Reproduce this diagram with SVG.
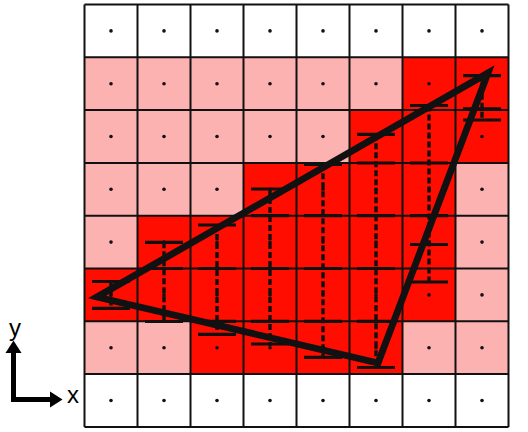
<svg xmlns="http://www.w3.org/2000/svg" width="528" height="432" viewBox="0 0 528 432">
<style>
.w{fill:#ffffff}
.p{fill:#fcb2b0}
.r{fill:#ff0d00}
.grid{fill:none;stroke:#111;stroke-width:2}
.dot{fill:#111}
.dash{stroke:#111;stroke-width:3.4;stroke-dasharray:6 3;fill:none}
.tick{stroke:#111;stroke-width:3.2}
.tri{fill:none;stroke:#111;stroke-width:6.8;stroke-linejoin:miter}
.ax{fill:none;stroke:#000;stroke-width:5;stroke-linejoin:miter}
.lbl{font-family:"Liberation Sans",Arial,sans-serif;font-size:24px;fill:#000;text-anchor:middle}
</style>
<rect width="528" height="432" fill="#fff"/>
<g id="cells">
<rect class="w" x="84.5" y="4.5" width="424" height="52.8"/>
<rect class="p" x="84.5" y="57.3" width="318" height="52.8"/>
<rect class="r" x="402.5" y="57.3" width="106" height="52.8"/>
<rect class="p" x="84.5" y="110.1" width="265" height="52.8"/>
<rect class="r" x="349.5" y="110.1" width="159" height="52.8"/>
<rect class="p" x="84.5" y="162.9" width="159" height="52.8"/>
<rect class="r" x="243.5" y="162.9" width="212" height="52.8"/>
<rect class="p" x="455.5" y="162.9" width="53" height="52.8"/>
<rect class="p" x="84.5" y="215.7" width="53" height="52.8"/>
<rect class="r" x="137.5" y="215.7" width="318" height="52.8"/>
<rect class="p" x="455.5" y="215.7" width="53" height="52.8"/>
<rect class="r" x="84.5" y="268.5" width="371" height="52.8"/>
<rect class="p" x="455.5" y="268.5" width="53" height="52.8"/>
<rect class="p" x="84.5" y="321.3" width="106" height="52.8"/>
<rect class="r" x="190.5" y="321.3" width="212" height="52.8"/>
<rect class="p" x="402.5" y="321.3" width="106" height="52.8"/>
<rect class="w" x="84.5" y="374.1" width="424" height="52.8"/>
</g>
<g id="grid">
<path class="grid" d="M84.5 4.5V426.9M137.5 4.5V426.9M190.5 4.5V426.9M243.5 4.5V426.9M296.5 4.5V426.9M349.5 4.5V426.9M402.5 4.5V426.9M455.5 4.5V426.9M508.5 4.5V426.9M84.5 4.5H508.5M84.5 57.3H508.5M84.5 110.1H508.5M84.5 162.9H508.5M84.5 215.7H508.5M84.5 268.5H508.5M84.5 321.3H508.5M84.5 374.1H508.5M84.5 426.9H508.5"/>
</g>
<g id="samples">
<circle class="dot" cx="111" cy="30.9" r="1.8"/><circle class="dot" cx="164" cy="30.9" r="1.8"/><circle class="dot" cx="217" cy="30.9" r="1.8"/><circle class="dot" cx="270" cy="30.9" r="1.8"/><circle class="dot" cx="323" cy="30.9" r="1.8"/><circle class="dot" cx="376" cy="30.9" r="1.8"/><circle class="dot" cx="429" cy="30.9" r="1.8"/><circle class="dot" cx="482" cy="30.9" r="1.8"/>
<circle class="dot" cx="111" cy="83.7" r="1.8"/><circle class="dot" cx="164" cy="83.7" r="1.8"/><circle class="dot" cx="217" cy="83.7" r="1.8"/><circle class="dot" cx="270" cy="83.7" r="1.8"/><circle class="dot" cx="323" cy="83.7" r="1.8"/><circle class="dot" cx="376" cy="83.7" r="1.8"/><circle class="dot" cx="429" cy="83.7" r="1.8"/><circle class="dot" cx="482" cy="83.7" r="1.8"/>
<circle class="dot" cx="111" cy="136.5" r="1.8"/><circle class="dot" cx="164" cy="136.5" r="1.8"/><circle class="dot" cx="217" cy="136.5" r="1.8"/><circle class="dot" cx="270" cy="136.5" r="1.8"/><circle class="dot" cx="323" cy="136.5" r="1.8"/><circle class="dot" cx="376" cy="136.5" r="1.8"/><circle class="dot" cx="429" cy="136.5" r="1.8"/><circle class="dot" cx="482" cy="136.5" r="1.8"/>
<circle class="dot" cx="111" cy="189.3" r="1.8"/><circle class="dot" cx="164" cy="189.3" r="1.8"/><circle class="dot" cx="217" cy="189.3" r="1.8"/><circle class="dot" cx="270" cy="189.3" r="1.8"/><circle class="dot" cx="323" cy="189.3" r="1.8"/><circle class="dot" cx="376" cy="189.3" r="1.8"/><circle class="dot" cx="429" cy="189.3" r="1.8"/><circle class="dot" cx="482" cy="189.3" r="1.8"/>
<circle class="dot" cx="111" cy="242.1" r="1.8"/><circle class="dot" cx="164" cy="242.1" r="1.8"/><circle class="dot" cx="217" cy="242.1" r="1.8"/><circle class="dot" cx="270" cy="242.1" r="1.8"/><circle class="dot" cx="323" cy="242.1" r="1.8"/><circle class="dot" cx="376" cy="242.1" r="1.8"/><circle class="dot" cx="429" cy="242.1" r="1.8"/><circle class="dot" cx="482" cy="242.1" r="1.8"/>
<circle class="dot" cx="111" cy="294.9" r="1.8"/><circle class="dot" cx="164" cy="294.9" r="1.8"/><circle class="dot" cx="217" cy="294.9" r="1.8"/><circle class="dot" cx="270" cy="294.9" r="1.8"/><circle class="dot" cx="323" cy="294.9" r="1.8"/><circle class="dot" cx="376" cy="294.9" r="1.8"/><circle class="dot" cx="429" cy="294.9" r="1.8"/><circle class="dot" cx="482" cy="294.9" r="1.8"/>
<circle class="dot" cx="111" cy="347.7" r="1.8"/><circle class="dot" cx="164" cy="347.7" r="1.8"/><circle class="dot" cx="217" cy="347.7" r="1.8"/><circle class="dot" cx="270" cy="347.7" r="1.8"/><circle class="dot" cx="323" cy="347.7" r="1.8"/><circle class="dot" cx="376" cy="347.7" r="1.8"/><circle class="dot" cx="429" cy="347.7" r="1.8"/><circle class="dot" cx="482" cy="347.7" r="1.8"/>
<circle class="dot" cx="111" cy="400.5" r="1.8"/><circle class="dot" cx="164" cy="400.5" r="1.8"/><circle class="dot" cx="217" cy="400.5" r="1.8"/><circle class="dot" cx="270" cy="400.5" r="1.8"/><circle class="dot" cx="323" cy="400.5" r="1.8"/><circle class="dot" cx="376" cy="400.5" r="1.8"/><circle class="dot" cx="429" cy="400.5" r="1.8"/><circle class="dot" cx="482" cy="400.5" r="1.8"/>
</g>
<g id="spans">
<path class="dash" d="M111 281.5V308.3M164 242.3V321.5M217 225V334.3M270 189V346M323 164.3V357.3M376 134.3V367M429 105.5V282M482 75.7V120"/>
<path class="tick" d="M92 281.5H130M92 308.3H130
M145 242.3H183M145 268.5H183M145 321.5H183
M198 225H236M198 268.5H236M198 321.3H236M198 334.3H236
M251 189H289M251 215.7H289M251 268.5H289M251 321.3H289M251 344H289
M304 164.3H342M304 215.7H342M304 268.5H342M304 321.3H342M304 357.3H342
M357 134.3H395M357 163H395M357 215.7H395M357 268.5H395M357 321.3H395M357 367.5H395
M410 105.5H448M410 163H448M410 215.7H448M410 244.5H448M410 282H448
M463 75.7H501M463 108.8H501M463 120H501"/>
</g>
<g id="triangle">
<polygon class="tri" points="97,297 378,363 488,73"/>
</g>
<g id="axes">
<path class="ax" d="M13.5 352V399.5H51"/>
<polygon points="13.5,340.5 5.5,353 21.5,353" fill="#000"/>
<polygon points="62.5,399.5 50,391.5 50,407.5" fill="#000"/>
<text class="lbl" x="15" y="336">y</text>
<text class="lbl" x="73" y="402.5">x</text>
</g>
</svg>
